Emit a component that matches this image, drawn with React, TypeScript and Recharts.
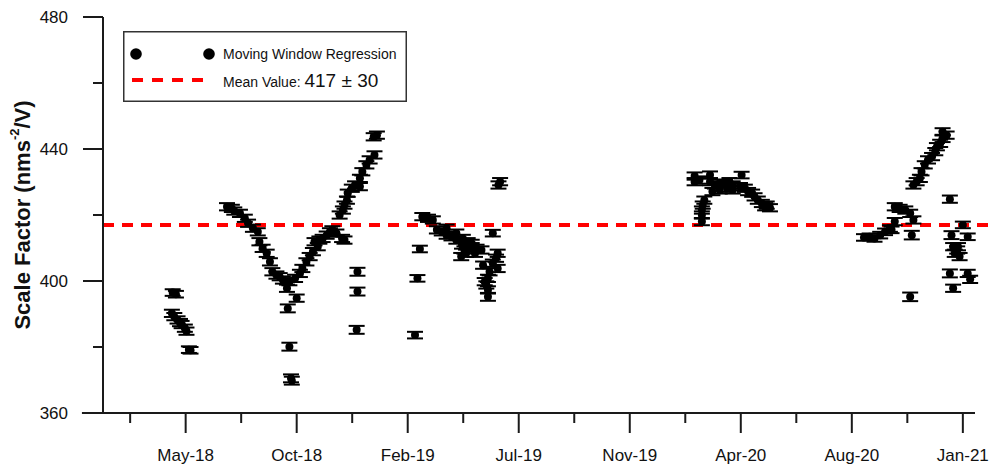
import { ScatterChart, Scatter, XAxis, YAxis, ErrorBar, ReferenceLine } from "recharts";

// x = days since 2018-05-20 (the May-18 tick); each point is [day, scale factor, error]
const MAJOR_TICKS = [0, 137, 274, 411, 548, 685, 822, 959];
const MAJOR_LABELS = ["May-18", "Oct-18", "Feb-19", "Jul-19", "Nov-19", "Apr-20", "Aug-20", "Jan-21"];
const MINOR_TICKS = [-68.5, 68.5, 205.5, 342.5, 479.5, 616.5, 753.5, 890.5];
const Y_MAJOR = [360, 400, 440, 480];
const Y_MINOR = [380, 420, 460];

const MEAN = 417;
const SPREAD = 30;

const may18 = [
  [-16, 396.5, 1.0], [-12, 396.0, 1.0], [-17, 390.2, 1.1], [-14, 389.2, 1.1], [-10, 388.2, 1.1],
  [-7, 387.4, 1.1], [-5, 386.8, 1.1], [-1, 385.7, 1.1], [1, 384.8, 1.1], [4, 379.2, 1.0], [6, 379.0, 1.0],
];

const autumn18 = [
  [51, 422.5, 1.1], [57, 422.0, 1.1], [60, 421.2, 1.1], [67, 420.5, 1.1], [73, 419.0, 1.1],
  [77, 417.5, 1.1], [83, 416.0, 1.1], [89, 414.9, 1.1], [91, 411.9, 1.1], [95, 409.9, 1.1],
  [100, 408.4, 1.1], [104, 405.8, 1.1], [107, 402.8, 1.1], [112, 401.8, 1.1], [116, 401.3, 1.1],
  [120, 400.3, 1.1], [125, 397.8, 1.1], [128, 399.8, 1.1], [135, 400.8, 1.1], [137, 394.8, 1.1],
  [126, 391.7, 1.2], [128, 380.1, 1.2], [130, 370.5, 1.2], [131, 369.8, 1.2],
  [141, 402.3, 1.1], [144, 403.8, 1.1], [149, 405.8, 1.1], [153, 407.4, 1.1], [157, 408.9, 1.1],
  [159, 411.9, 1.1], [163, 410.4, 1.1], [165, 412.4, 1.1], [169, 412.9, 1.1], [174, 413.9, 1.1],
  [178, 414.9, 1.1], [181, 415.5, 1.1], [186, 414.5, 1.1], [193, 412.9, 1.1], [196, 412.4, 1.1],
  [190, 420.0, 1.1], [194, 421.5, 1.1], [196, 423.0, 1.1], [199, 424.5, 1.1], [200, 426.6, 1.1],
  [205, 428.1, 1.1], [209, 429.1, 1.1], [215, 428.6, 1.1], [215, 431.1, 1.1], [218, 433.1, 1.1],
  [223, 435.2, 1.1], [227, 436.7, 1.1], [233, 438.2, 1.1], [232, 443.7, 1.1], [236, 444.2, 1.1],
  [212, 402.8, 1.2], [212, 396.8, 1.2], [211, 385.2, 1.2],
];

const spring19 = [
  [283, 383.6, 1.0], [286, 400.8, 1.0], [289, 409.7, 1.0], [292, 419.5, 1.1], [299, 419.0, 1.1],
  [305, 418.5, 1.1], [310, 415.5, 1.1], [316, 414.9, 1.1], [322, 416.0, 1.1], [322, 413.9, 1.1],
  [328, 413.4, 1.1], [334, 414.5, 1.1], [334, 412.4, 1.1], [342, 412.9, 1.1], [341, 410.9, 1.1],
  [344, 409.4, 1.1], [348, 411.9, 1.1], [353, 411.4, 1.1], [353, 410.4, 1.1], [359, 409.9, 1.1],
  [346, 408.4, 1.1], [340, 407.4, 1.1], [365, 409.4, 1.1], [357, 408.4, 1.1],
  [385, 408.4, 1.1], [383, 406.9, 1.1], [379, 405.4, 1.1], [367, 404.8, 1.1], [385, 403.8, 1.1],
  [375, 402.8, 1.1], [373, 400.8, 1.1], [369, 399.8, 1.1], [371, 398.8, 1.1], [373, 397.3, 1.1],
  [373, 395.2, 1.2], [379, 414.5, 1.0], [388, 430.1, 1.1], [386, 429.1, 1.1],
];

const spring20 = [
  [628, 431.8, 1.1], [628, 430.1, 1.1], [634, 430.6, 1.1], [640, 424.5, 1.1], [638, 423.0, 1.1],
  [637, 421.5, 1.1], [637, 420.0, 1.1], [637, 418.0, 1.1], [647, 432.1, 1.1], [647, 430.1, 1.1],
  [650, 427.1, 1.1], [653, 429.1, 1.1], [659, 429.6, 1.1], [659, 427.6, 1.1], [665, 429.6, 1.1],
  [668, 428.1, 1.1], [671, 430.1, 1.1], [675, 429.1, 1.1], [675, 427.6, 1.1], [684, 428.6, 1.1],
  [686, 432.1, 1.0], [690, 428.1, 1.1], [694, 427.1, 1.1], [699, 426.6, 1.1], [702, 425.5, 1.1],
  [706, 424.5, 1.1], [711, 423.5, 1.1], [715, 422.5, 1.1], [717, 423.0, 1.1], [721, 422.2, 1.1],
];

const winter20 = [
  [837, 413.2, 1.0], [844, 413.4, 1.0], [850, 412.9, 1.0], [857, 413.9, 1.0], [863, 414.9, 1.0],
  [869, 415.9, 1.0], [871, 415.5, 1.0], [875, 418.0, 1.1], [875, 422.5, 1.1], [881, 422.0, 1.1],
  [888, 421.5, 1.1], [894, 420.5, 1.1], [898, 418.5, 1.1], [896, 413.9, 1.3], [894, 395.2, 1.3],
  [898, 429.1, 1.1], [902, 430.1, 1.1], [906, 431.1, 1.1], [908, 433.1, 1.1], [912, 435.2, 1.1],
  [916, 436.7, 1.1], [921, 437.7, 1.1], [925, 439.2, 1.1], [927, 440.7, 1.1], [931, 441.7, 1.1],
  [934, 443.2, 1.1], [934, 445.2, 1.1], [939, 444.2, 1.1], [943, 424.8, 1.1], [945, 413.9, 1.2],
  [947, 410.4, 1.1], [949, 408.4, 1.1], [952, 409.4, 1.1], [953, 410.4, 1.1], [955, 407.4, 1.1],
  [959, 417.0, 1.0], [965, 413.4, 1.0], [943, 402.3, 1.2], [947, 397.8, 1.1], [965, 402.3, 1.1],
  [968, 400.5, 1.1],
];

const points = [...may18, ...autumn18, ...spring19, ...spring20, ...winter20].map(([day, value, err]) => ({
  day,
  value,
  err,
}));

const FONT = "Arial, 'Liberation Sans', sans-serif";
const AXIS = "#1a1a1a";

function XTick({ x, y, payload }: any) {
  const i = MAJOR_TICKS.indexOf(payload.value);
  const major = i >= 0;
  return (
    <g>
      <line x1={x} x2={x} y1={y} y2={y + (major ? 20 : 10)} stroke={AXIS} strokeWidth={2} />
      {major && (
        <text x={x} y={y + 48} textAnchor="middle" fontSize={17} fontFamily={FONT} fill="#111">
          {MAJOR_LABELS[i]}
        </text>
      )}
    </g>
  );
}

function YTick({ x, y, payload }: any) {
  const major = Y_MAJOR.includes(payload.value);
  return (
    <g>
      <line x1={x - (major ? 20 : 10)} x2={x} y1={y} y2={y} stroke={AXIS} strokeWidth={2} />
      {major && (
        <text x={x - 35} y={y + 6} textAnchor="end" fontSize={17} fontFamily={FONT} fill="#111">
          {payload.value}
        </text>
      )}
    </g>
  );
}

function YLabel({ viewBox }: any) {
  const cx = viewBox.x + 22;
  const cy = viewBox.y + viewBox.height / 2;
  return (
    <text
      transform={`translate(${cx},${cy}) rotate(-90)`}
      textAnchor="middle"
      dominantBaseline="central"
      fontSize={22}
      fontWeight="bold"
      fontFamily={FONT}
      fill="#111"
    >
      Scale Factor (nms
      <tspan dy={-8} fontSize={13}>-2</tspan>
      <tspan dy={8}>/V)</tspan>
    </text>
  );
}

function Dot({ cx, cy }: any) {
  return <circle cx={cx} cy={cy} r={4} fill="#000" />;
}

function LegendBox() {
  return (
    <svg
      width={284}
      height={71}
      style={{ position: "absolute", left: 123, top: 31, overflow: "visible" }}
    >
      <rect x={0.75} y={0.75} width={282.5} height={69.5} fill="#fff" stroke="#333" strokeWidth={1.5} />
      <circle cx={13} cy={23} r={5.8} fill="#000" />
      <circle cx={86} cy={23} r={5.8} fill="#000" />
      <text x={100} y={28} fontSize={14} fontFamily={FONT} fill="#111">
        Moving Window Regression
      </text>
      <line x1={9} x2={80} y1={49} y2={49} stroke="#ff0000" strokeWidth={4} strokeDasharray="11 9" />
      <text x={100} y={56} fontSize={14} fontFamily={FONT} fill="#111">
        Mean Value:{" "}
        <tspan fontSize={19}>
          {MEAN} ± {SPREAD}
        </tspan>
      </text>
    </svg>
  );
}

export default function App() {
  return (
    <div style={{ position: "absolute", left: 0, top: 0, width: 993, height: 467, background: "#fff" }}>
      <ScatterChart width={993} height={467} margin={{ top: 17, right: 18, bottom: 0, left: 0 }}>
        <XAxis
          type="number"
          dataKey="day"
          domain={[-102, 974]}
          allowDataOverflow
          ticks={[...MINOR_TICKS, ...MAJOR_TICKS].sort((a, b) => a - b)}
          interval={0}
          height={54}
          axisLine={false}
          tickLine={false}
          tickSize={0}
          tickMargin={0}
          tick={<XTick />}
        />
        <YAxis
          type="number"
          dataKey="value"
          domain={[360, 480]}
          allowDataOverflow
          ticks={[...Y_MAJOR, ...Y_MINOR].sort((a, b) => a - b)}
          interval={0}
          width={103}
          axisLine={{ stroke: AXIS, strokeWidth: 2 }}
          tickLine={false}
          tickSize={0}
          tickMargin={0}
          tick={<YTick />}
          label={(props: any) => <YLabel {...props} />}
        />
        <ReferenceLine
          segment={[{ x: -128, y: 360 }, { x: 974, y: 360 }]}
          stroke={AXIS}
          strokeWidth={2}
          ifOverflow="visible"
        />
        <ReferenceLine
          segment={[{ x: -102, y: MEAN }, { x: 993, y: MEAN }]}
          stroke="#ff0000"
          strokeWidth={4}
          strokeDasharray="11 8"
          ifOverflow="visible"
        />
        <Scatter data={points} shape={<Dot />} isAnimationActive={false}>
          <ErrorBar dataKey="err" direction="y" width={8} stroke="#000" strokeWidth={2} />
        </Scatter>
      </ScatterChart>
      <LegendBox />
    </div>
  );
}
